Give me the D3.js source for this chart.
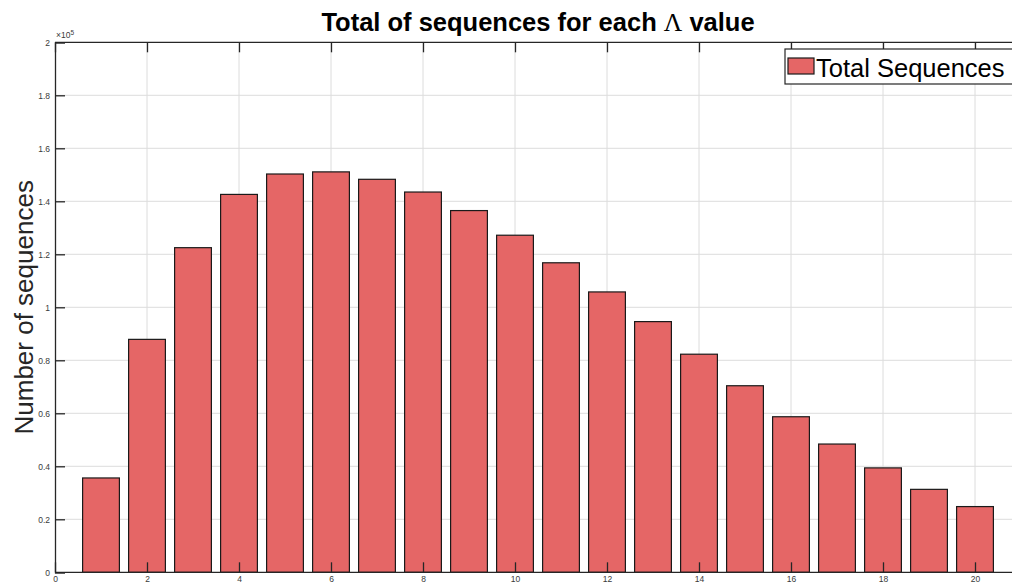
<!DOCTYPE html>
<html>
<head>
<meta charset="utf-8">
<script src="https://cdn.jsdelivr.net/npm/d3@7"></script>
<style>
  body { margin: 0; background: #fff; }
  svg { display: block; font-family: "Liberation Sans", Arial, Helvetica, sans-serif; }
  .grid line { stroke: #dcdcdc; stroke-width: 1; }
  .tick-label { font-size: 8.5px; fill: #3a3a3a; }
</style>
</head>
<body>
<div id="chart"></div>
<script>
// data
const lambdas = [1, 2, 3, 4, 5, 6, 7, 8, 9, 10, 11, 12, 13, 14, 15, 16, 17, 18, 19, 20];
const totals = [35600, 87900, 122500, 142600, 150300, 151100, 148300, 143500, 136500, 127200,
                116800, 105800, 94600, 82300, 70400, 58700, 48400, 39400, 31300, 24800];
const xTicks = [0, 2, 4, 6, 8, 10, 12, 14, 16, 18, 20];
const yTicks = [0, 20000, 40000, 60000, 80000, 100000, 120000, 140000, 160000, 180000, 200000];
const seriesName = "Total Sequences";

const width = 1012, height = 586;
const margin = {top: 42.3, left: 55, bottom: 586 - 572.3};
const plotRight = 55 + 21 * 46; // axis runs past the window edge

const svg = d3.select("#chart").append("svg")
    .attr("width", width)
    .attr("height", height);

const x = d3.scaleLinear().domain([0, 21]).range([margin.left, plotRight]);
const y = d3.scaleLinear().domain([0, 200000]).range([height - margin.bottom, margin.top]);
const barW = x(0.8) - x(0);

// grid
const grid = svg.append("g").attr("class", "grid");
grid.selectAll(".gx").data(xTicks.slice(1)).enter().append("line")
    .attr("x1", d => x(d)).attr("x2", d => x(d))
    .attr("y1", y(0)).attr("y2", y(200000));
grid.selectAll(".gy").data(yTicks.slice(1, -1)).enter().append("line")
    .attr("x1", x(0)).attr("x2", plotRight)
    .attr("y1", d => y(d)).attr("y2", d => y(d));

// bars
svg.append("g").selectAll("rect").data(lambdas).enter().append("rect")
    .attr("x", (d) => x(d) - barW / 2)
    .attr("width", barW)
    .attr("y", (d, i) => y(totals[i]))
    .attr("height", (d, i) => y(0) - y(totals[i]))
    .attr("fill", "#e56666")
    .attr("stroke", "#1a1a1a")
    .attr("stroke-width", 1.2);

// axes, ticks pointing inward like matlab
const axisColor = "#262626";
const bottomAxis = d3.axisBottom(x).tickValues(xTicks).tickSize(-10).tickPadding(4)
    .tickFormat(d3.format("d"));
const topAxis = d3.axisTop(x).tickValues(xTicks).tickSize(-10).tickFormat("");
const leftAxis = d3.axisLeft(y).tickValues(yTicks).tickSize(-10).tickPadding(5)
    .tickFormat(d => d3.format("~g")(d / 100000));

function styleAxis(g) {
  g.select(".domain").attr("stroke", axisColor).attr("stroke-width", 1.3);
  g.selectAll(".tick line").attr("stroke", axisColor).attr("stroke-width", 1.3);
  g.selectAll(".tick text").attr("class", "tick-label")
    .attr("font-family", null).attr("font-size", null).attr("fill", null);
}

svg.append("g").attr("transform", `translate(0,${y(0)})`)
  .call(bottomAxis).call(g => g.select(".domain").attr("d", `M${x(0)},0H${plotRight}`))
  .call(styleAxis);
svg.append("g").attr("transform", `translate(0,${y(200000)})`)
  .call(topAxis).call(g => g.select(".domain").attr("d", `M${x(0)},0H${plotRight}`))
  .call(styleAxis);
svg.append("g").attr("transform", `translate(${x(0)},0)`)
  .call(leftAxis).call(styleAxis);

// exponent marker
const expo = svg.append("text")
    .attr("x", x(0) + 1).attr("y", y(200000) - 4)
    .attr("font-size", 8.5).attr("fill", "#3a3a3a");
expo.append("tspan").text("\u00d710");
expo.append("tspan").attr("dy", -3).attr("font-size", 6.5).text("5");

// title
const title = svg.append("text")
    .attr("x", (x(0) + plotRight) / 2).attr("y", 31)
    .attr("text-anchor", "middle")
    .attr("font-size", 25.5).attr("font-weight", "bold").attr("fill", "#000");
title.append("tspan").text("Total of sequences for each ");
title.append("tspan").attr("font-family", "'Liberation Serif', 'DejaVu Serif', serif")
    .attr("font-weight", "normal").text("\u039b");
title.append("tspan").text(" value");

// y label
svg.append("text")
    .attr("transform", `translate(32.5,${(y(0) + y(200000)) / 2}) rotate(-90)`)
    .attr("text-anchor", "middle")
    .attr("font-size", 26).attr("fill", "#262626")
    .text("Number of sequences");

// legend (box runs off the right edge, as in the original)
const legend = svg.append("g").attr("transform", "translate(785,49)");
legend.append("rect")
    .attr("width", 260).attr("height", 35)
    .attr("fill", "#fff").attr("stroke", "#262626").attr("stroke-width", 1.2);
legend.append("rect")
    .attr("x", 3).attr("y", 9).attr("width", 26).attr("height", 16)
    .attr("fill", "#e56666").attr("stroke", "#1a1a1a").attr("stroke-width", 1.2);
legend.append("text")
    .attr("x", 31).attr("y", 27.5)
    .attr("font-size", 25.5).attr("fill", "#000")
    .text(seriesName);
</script>
</body>
</html>
